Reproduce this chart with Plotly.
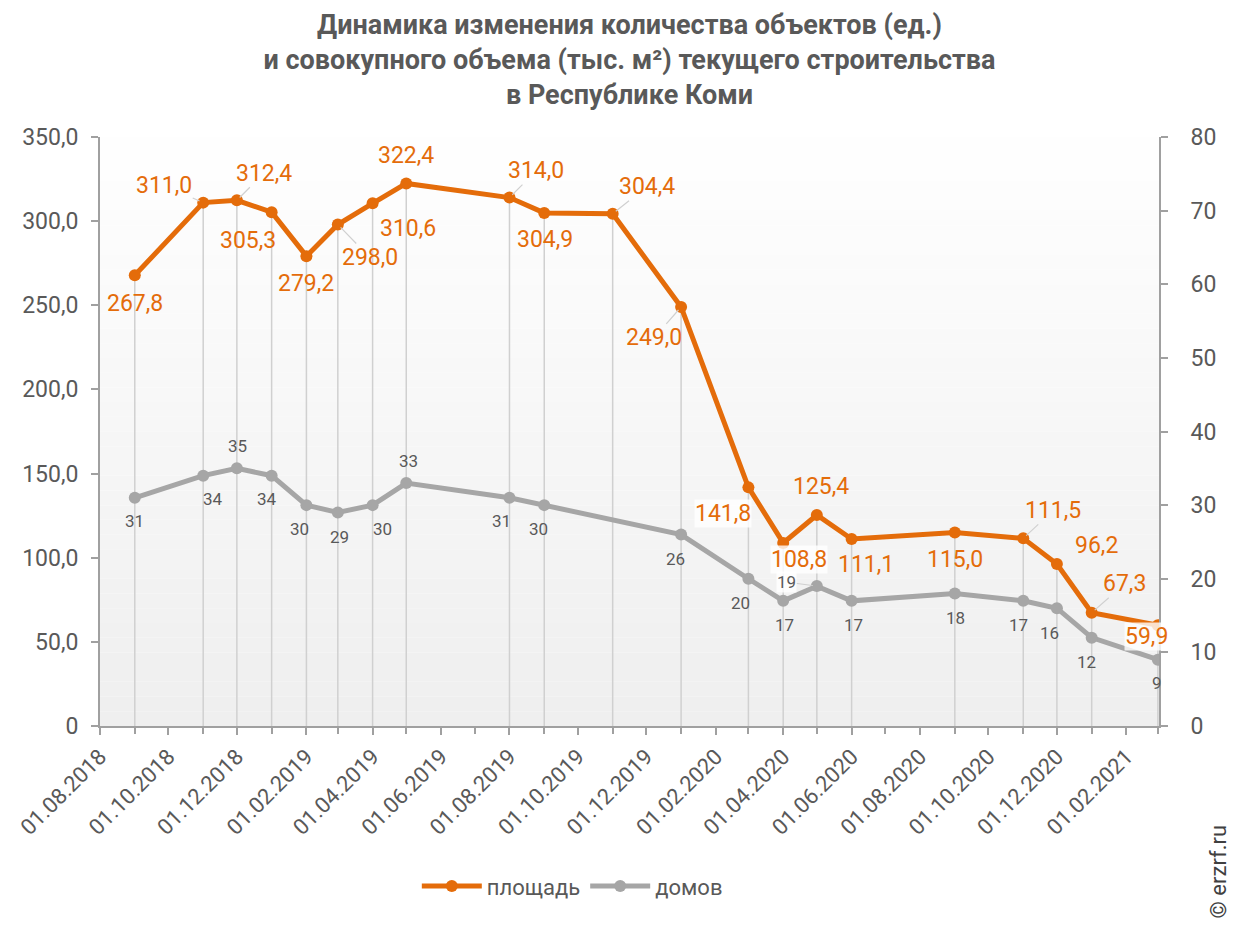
import plotly.graph_objects as go

dates = ["2018-09-01", "2018-11-01", "2018-12-01", "2019-01-01", "2019-02-01", "2019-03-01",
         "2019-04-01", "2019-05-01", "2019-08-01", "2019-09-01", "2019-11-01", "2020-01-01",
         "2020-03-01", "2020-04-01", "2020-05-01", "2020-06-01", "2020-09-01", "2020-11-01",
         "2020-12-01", "2021-01-01", "2021-03-01"]
area = [267.8, 311.0, 312.4, 305.3, 279.2, 298.0, 310.6, 322.4, 314.0, 304.9, 304.4, 249.0,
        141.8, 108.8, 125.4, 111.1, 115.0, 111.5, 96.2, 67.3, 59.9]
houses = [31, 34, 35, 34, 30, 29, 30, 33, 31, 30, None, 26, 20, 17, 19, 17, 18, 17, 16, 12, 9]

left_ticks = [0, 50, 100, 150, 200, 250, 300, 350]
right_ticks = [0, 10, 20, 30, 40, 50, 60, 70, 80]

series_names = ["площадь", "домов"]
title_text = ("Динамика изменения количества объектов (ед.)<br>"
              "и совокупного объема (тыс. м²) текущего строительства<br>"
              "в Республике Коми")

ORANGE = "#E46C0A"
GREY = "#A6A6A6"
TXT = "#595959"
FONT = "Roboto"

# label offsets (px) for area labels: (ax, ay, leader, bg)
area_off = [(0, 28, False, False), (-39, -17, True, False), (27, -27, True, False),
            (-24, 28, False, False), (0, 27, False, False), (32, 33, True, False),
            (35, 25, False, False), (0, -28, False, False), (27, -27, True, False),
            (1, 27, False, False), (34, -27, True, False), (-27, 31, True, False),
            (-25, 26, False, True), (16, 17, False, True), (4, -28, False, False),
            (14, 25, False, False), (0, 27, False, False), (30, -28, True, False),
            (40, -19, False, False), (33, -29, True, False), (-11, 11, False, True)]
house_off = [(0, 23, False), (10, 23, False), (1, -22, False), (-5, 23, False), (-7, 24, False),
             (2, 25, False), (10, 24, False), (2, -22, False), (-8, 23, False), (-6, 24, False),
             None, (-6, 24, False), (-8, 24, False), (1, 24, False), (-30, -4, True),
             (2, 24, False), (1, 25, False), (-5, 24, False), (-7, 25, False), (-5, 24, False),
             (-1, 23, False)]

fig = go.Figure()

# drop lines from data points to the axis
dx, dy = [], []
for d, v in zip(dates, area):
    dx += [d, d, None]
    dy += [0, v, None]
fig.add_trace(go.Scatter(x=dx, y=dy, mode="lines", line=dict(color="#D0D0D0", width=1.5),
                         showlegend=False, hoverinfo="skip"))

fig.add_trace(go.Scatter(x=dates, y=area, name=series_names[0], mode="lines+markers",
                         line=dict(color=ORANGE, width=5), marker=dict(size=12, color=ORANGE)))
fig.add_trace(go.Scatter(x=dates, y=houses, name=series_names[1], mode="lines+markers",
                         connectgaps=True, yaxis="y2",
                         line=dict(color=GREY, width=5), marker=dict(size=12, color=GREY)))

annotations = []
for d, v, (ax, ay, lead, bg) in zip(dates, area, area_off):
    annotations.append(dict(x=d, y=v, xref="x", yref="y", text=f"{v:.1f}".replace(".", ","),
                            showarrow=True, ax=ax, ay=ay, arrowhead=0, arrowwidth=1.2,
                            arrowcolor="#D0D0D0" if lead else "rgba(0,0,0,0)", standoff=4,
                            bgcolor="rgba(255,255,255,0.8)" if bg else None, borderpad=0,
                            font=dict(family=FONT, size=23, color=ORANGE)))
for d, v, off in zip(dates, houses, house_off):
    if v is None or off is None:
        continue
    ax, ay, lead = off
    annotations.append(dict(x=d, y=v, xref="x", yref="y2", text=str(v),
                            showarrow=True, ax=ax, ay=ay, arrowhead=0, arrowwidth=1,
                            arrowcolor="#D0D0D0" if lead else "rgba(0,0,0,0)", standoff=4,
                            bgcolor="rgba(255,255,255,0.8)" if lead else None, borderpad=0,
                            font=dict(family=FONT, size=17, color=TXT)))
annotations.append(dict(x=1.056, y=-0.248, xref="paper", yref="paper", text="© erzrf.ru",
                        textangle=-90, showarrow=False, xanchor="center", yanchor="middle",
                        font=dict(family=FONT, size=22, color="#404040")))

# background gradient (white top -> light grey bottom)
shapes = []
n = 40
for i in range(n):
    c = int(255 - (255 - 239) * (i + 0.5) / n)
    shapes.append(dict(type="rect", xref="paper", yref="paper", x0=0, x1=1,
                       y0=1 - (i + 1) / n, y1=1 - i / n, layer="below",
                       line=dict(width=0), fillcolor=f"rgb({c},{c},{c})"))

axis_common = dict(showline=True, linecolor="#A0A0A0", linewidth=2, ticks="outside",
                   tickcolor="#A0A0A0", ticklen=7, tickwidth=2, showgrid=False, zeroline=False,
                   automargin=False)

fig.update_layout(
    width=1235, height=926,
    margin=dict(l=92, r=84, t=129, b=208, autoexpand=False),
    paper_bgcolor="white", plot_bgcolor="white",
    title=dict(text=title_text, x=0.5, xref="paper", xanchor="center",
               y=0.972, yref="container", yanchor="top", pad=dict(t=0, b=0),
               font=dict(family=FONT, size=27, color=TXT, weight="bold")),
    xaxis=dict(type="date", range=["2018-08-01", "2021-03-02"], tickformat="%d.%m.%Y",
               dtick="M2", tick0="2018-08-01", tickangle=-45,
               minor=dict(dtick="M1", ticks="outside", ticklen=6, tickcolor="#A0A0A0"),
               tickfont=dict(family=FONT, size=22, color=TXT), **axis_common),
    yaxis=dict(range=[0, 350], tickvals=left_ticks,
               ticktext=[("0" if t == 0 else f"{t},0") for t in left_ticks],
               ticklabelstandoff=8,
               tickfont=dict(family=FONT, size=23, color=TXT), **axis_common),
    yaxis2=dict(range=[0, 80], tickvals=right_ticks, ticktext=[str(t) for t in right_ticks],
                overlaying="y", side="right", ticklabelstandoff=18,
                tickfont=dict(family=FONT, size=23, color=TXT), **axis_common),
    legend=dict(orientation="h", x=0.446, xanchor="center", y=-0.272, yanchor="middle",
                itemwidth=60, font=dict(family=FONT, size=22, color=TXT)),
    annotations=annotations, shapes=shapes,
)

fig.write_html("out.html")
